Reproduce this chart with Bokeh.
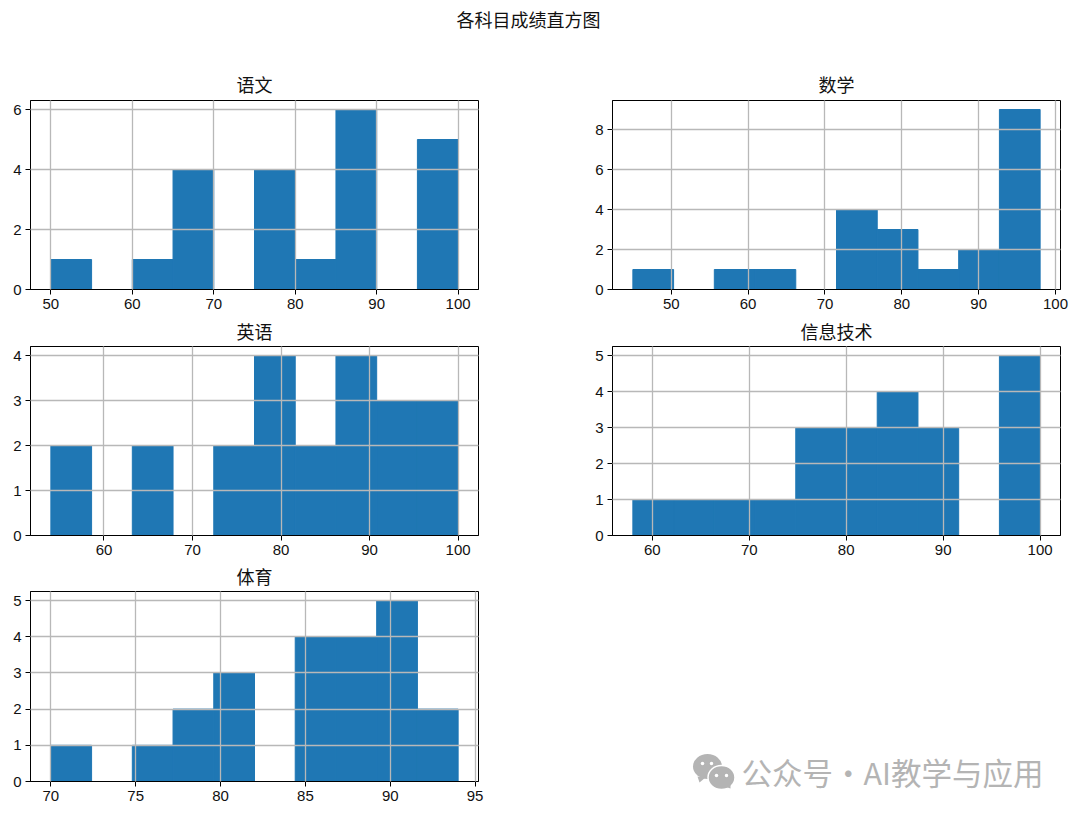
from bokeh.plotting import figure
from bokeh.layouts import column, row
from bokeh.models import Range1d, FixedTicker
from bokeh.core.properties import value
from bokeh.embed import file_html
from bokeh.resources import INLINE

SUPTITLE = "各科目成绩直方图"
WATERMARK = "公众号·AI教学与应用"
CJK = "Noto Sans CJK SC"
TICK_FONT = "Liberation Sans"
BAR = "#1f77b4"
GRID = "#b8b8b8"

chinese_edges = [50, 55, 60, 65, 70, 75, 80, 85, 90, 95, 100]
chinese_counts = [1, 0, 1, 4, 0, 4, 1, 6, 0, 5]
chinese_xticks = [50, 60, 70, 80, 90, 100]
chinese_yticks = [0, 2, 4, 6]

math_edges = [45, 50.3, 55.6, 60.9, 66.2, 71.5, 76.8, 82.1, 87.4, 92.7, 98]
math_counts = [1, 0, 1, 1, 0, 4, 3, 1, 2, 9]
math_xticks = [50, 60, 70, 80, 90, 100]
math_yticks = [0, 2, 4, 6, 8]

english_edges = [54, 58.6, 63.2, 67.8, 72.4, 77, 81.6, 86.2, 90.8, 95.4, 100]
english_counts = [2, 0, 2, 0, 2, 4, 2, 4, 3, 3]
english_xticks = [60, 70, 80, 90, 100]
english_yticks = [0, 1, 2, 3, 4]

it_edges = [58, 62.2, 66.4, 70.6, 74.8, 79, 83.2, 87.4, 91.6, 95.8, 100]
it_counts = [1, 1, 1, 1, 3, 3, 4, 3, 0, 5]
it_xticks = [60, 70, 80, 90, 100]
it_yticks = [0, 1, 2, 3, 4, 5]

pe_edges = [70, 72.4, 74.8, 77.2, 79.6, 82, 84.4, 86.8, 89.2, 91.6, 94]
pe_counts = [1, 0, 1, 2, 3, 0, 4, 4, 5, 2]
pe_xticks = [70, 75, 80, 85, 90, 95]
pe_yticks = [0, 1, 2, 3, 4, 5]


def panel(title, edges, counts, xticks, yticks, left, right, top, bottom, height, standoff=6):
    span = edges[-1] - edges[0]
    p = figure(
        width=left + 448 + right, height=height, output_backend="svg", toolbar_location=None,
        x_range=Range1d(edges[0] - 0.05 * span, edges[-1] + 0.05 * span),
        y_range=Range1d(0, max(counts) * 1.05),
        min_border_left=left, min_border_right=right,
        min_border_top=top, min_border_bottom=bottom,
        title=title, border_fill_color=None,
    )
    p.quad(left=edges[:-1], right=edges[1:], bottom=0, top=counts,
           fill_color=BAR, line_color=BAR, line_width=1)
    p.title.text_font = CJK
    p.title.text_font_size = "18px"
    p.title.text_font_style = "normal"
    p.title.text_color = "#111111"
    p.title.align = "center"
    p.title.standoff = standoff
    p.xaxis.ticker = FixedTicker(ticks=xticks)
    p.yaxis.ticker = FixedTicker(ticks=yticks)
    for ax in (p.xaxis, p.yaxis):
        ax.major_label_text_font = TICK_FONT
        ax.major_label_text_font_size = "15px"
        ax.major_label_text_color = "#111111"
        ax.major_tick_in = 0
        ax.major_tick_out = 5
        ax.minor_tick_line_color = None
        ax.axis_line_color = "black"
        ax.major_tick_line_color = "black"
    p.yaxis.major_label_standoff = 4
    p.xaxis.major_label_standoff = 4
    p.grid.grid_line_color = GRID
    p.grid.grid_line_width = 1.3
    p.grid.level = "overlay"
    p.outline_line_color = "black"
    p.outline_line_width = 1
    return p


def blank(width, height, x_range, y_range):
    p = figure(width=width, height=height, output_backend="svg", toolbar_location=None,
               x_range=Range1d(*x_range), y_range=Range1d(*y_range),
               x_axis_type=None, y_axis_type=None, min_border=0, title=None,
               border_fill_color=None)
    p.grid.visible = False
    p.outline_line_color = None
    return p


header = blank(1072, 60, (0, 1072), (60, 0))
header.text(x=[528], y=[18], text=[SUPTITLE], text_font=value(CJK), text_font_size="18px",
            text_align="center", text_baseline="middle", text_color="#111111")

p1 = panel("语文", chinese_edges, chinese_counts, chinese_xticks, chinese_yticks, 30, 62, 40, 27, 256, 8)
p2 = panel("数学", math_edges, math_counts, math_xticks, math_yticks, 72, 12, 40, 27, 256, 8)
p3 = panel("英语", english_edges, english_counts, english_xticks, english_yticks, 30, 62, 35, 27, 251)
p4 = panel("信息技术", it_edges, it_counts, it_xticks, it_yticks, 72, 12, 35, 27, 251)
p5 = panel("体育", pe_edges, pe_counts, pe_xticks, pe_yticks, 30, 62, 35, 31, 256)

mark = blank(532, 256, (540, 1072), (812, 556))
WM = "#b4b4b4"
mark.ellipse(x=[707], y=[766], width=[29], height=[25], fill_color=WM, line_color=None)
mark.patch(x=[697, 699, 705], y=[776, 782, 777], fill_color=WM, line_color=None)
mark.ellipse(x=[721], y=[777], width=[27], height=[24], fill_color=WM, line_color="white", line_width=1.5)
mark.patch(x=[724, 730, 730], y=[786, 788, 783], fill_color=WM, line_color=None)
mark.scatter(x=[702, 711, 716, 726], y=[763, 763, 775, 775], size=3.5, marker="circle",
             fill_color="white", line_color=None)
mark.text(x=[741], y=[771], text=[WATERMARK], text_font=value(CJK), text_font_size="30.5px",
          text_align="left", text_baseline="middle", text_color=WM)

layout = column(header, row(p1, p2), row(p3, p4, margin=(-5, 0, 0, 0)),
                row(p5, column(mark), margin=(-6, 0, 0, 0)))
open("out.html", "w").write(file_html(layout, INLINE))
